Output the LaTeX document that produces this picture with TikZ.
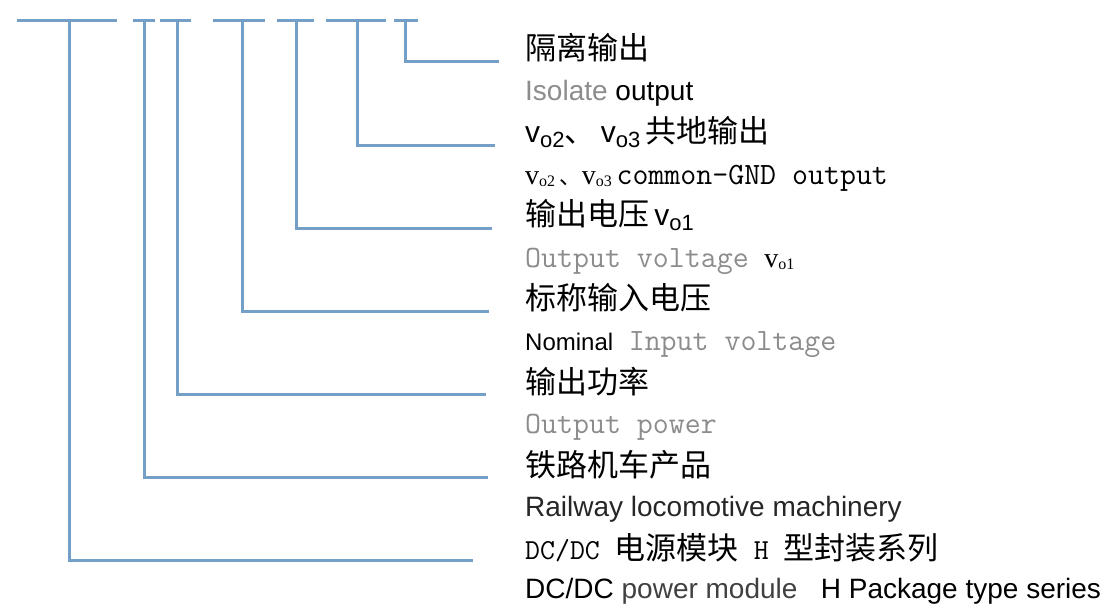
\documentclass[tikz,border=0pt]{standalone}
\usepackage{fontspec}
\setmainfont{Liberation Sans}
\newfontfamily\cjk{Noto Sans CJK SC}
\newfontfamily\timesf{Liberation Serif}
\usepackage{xcolor}
\usetikzlibrary{positioning}

\definecolor{legblue}{RGB}{116,159,199}
\definecolor{labelgray}{RGB}{140,140,140}
\definecolor{darkgray}{RGB}{64,64,64}

\newcommand{\monoa}{\fontsize{31}{31}\selectfont\ttfamily}
\newcommand{\sansv}[1]{{\fontsize{30}{30}\selectfont v\raisebox{-5pt}{\fontsize{22}{22}\selectfont #1}}}
\newcommand{\romanv}[1]{{\timesf\fontsize{28}{28}\selectfont v\raisebox{-2pt}{\fontsize{16}{16}\selectfont #1}}}

\tikzset{
  leg/.style={draw=legblue, line width=3pt},
  zh/.style={anchor=west, inner sep=0pt, text=black, font=\fontsize{31}{31}\selectfont\cjk},
  en/.style={anchor=base west, inner sep=0pt, text=black, font=\fontsize{28}{28}\selectfont},
}

\begin{document}
\begin{tikzpicture}[x=1pt, y=-1pt]
  \useasboundingbox (0,0) rectangle (1107,605);

  % Define nodes
  \node[zh] (iso) at (525,48) {隔离输出};
  \node[en] (isoen) at (525,100) {{\color{labelgray}Isolate} output};
  \node[zh] (gnd) at (525,132) {{\rmfamily\sansv{o2}}、\,{\rmfamily\sansv{o3}}\,共地输出};
  \node[en] (gnden) at (525,184) {\romanv{o2}\,{\cjk\fontsize{22}{22}\selectfont 、}\romanv{o3}\,{\monoa common-GND output}};
  \node[zh] (vout) at (525,215) {输出电压\,{\rmfamily\sansv{o1}}};
  \node[en] (vouten) at (525,267) {{\monoa\color{labelgray}Output voltage}\ \ \romanv{o1}};
  \node[zh] (vin) at (525,298) {标称输入电压};
  \node[en] (vinen) at (525,350) {{\fontsize{24}{24}\selectfont Nominal}\ \ {\monoa\color{labelgray}Input voltage}};
  \node[zh] (pout) at (525,382) {输出功率};
  \node[en] (pouten) at (525,433) {{\monoa\color{labelgray}Output power}};
  \node[zh] (rail) at (525,465) {铁路机车产品};
  \node[en] (railen) at (525,516) {{\color{black!85}Railway locomotive machinery}};
  \node[zh] (series) at (525,548) {{\fontsize{29}{29}\selectfont\ttfamily DC/DC }电源模块{\fontsize{29}{29}\selectfont\ttfamily\ H }型封装系列};
  \node[en] (seriesen) at (525,598) {DC/DC {\color{darkgray}power module}\ \ \ H Package type series};

  % Code segments along the top
  \draw[leg] (17,20) -- (117,20);
  \draw[leg] (133,20) -- (155,20);
  \draw[leg] (160,20) -- (191,20);
  \draw[leg] (213,20) -- (265,20);
  \draw[leg] (277,20) -- (314,20);
  \draw[leg] (326,20) -- (386,20);
  \draw[leg] (394,20) -- (418,20);

  % Leg ends
  \coordinate (top1) at (69,20);   \coordinate (end1) at (473,560);
  \coordinate (top2) at (144,20);  \coordinate (end2) at (488,477);
  \coordinate (top3) at (177,20);  \coordinate (end3) at (486,394);
  \coordinate (top4) at (242,20);  \coordinate (end4) at (489,311);
  \coordinate (top5) at (296,20);  \coordinate (end5) at (492,228);
  \coordinate (top6) at (357,20);  \coordinate (end6) at (495,145);
  \coordinate (top7) at (405,20);  \coordinate (end7) at (499,61);

  % Connect the legs
  \draw[leg] (top1) |- (end1);
  \draw[leg] (top2) |- (end2);
  \draw[leg] (top3) |- (end3);
  \draw[leg] (top4) |- (end4);
  \draw[leg] (top5) |- (end5);
  \draw[leg] (top6) |- (end6);
  \draw[leg] (top7) |- (end7);

\end{tikzpicture}
\end{document}
